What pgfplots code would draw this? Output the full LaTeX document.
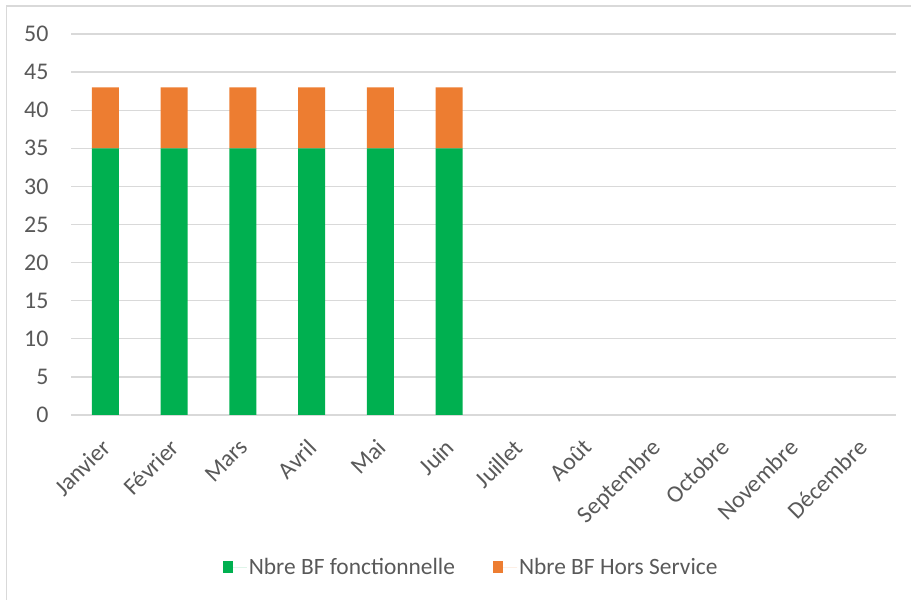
\documentclass[border=0pt]{standalone}
\usepackage{pgfplots}
\pgfplotsset{compat=1.18}
\usepackage{fontspec}
\setmainfont{Carlito}
\definecolor{cgreen}{HTML}{00B050}
\definecolor{corange}{HTML}{ED7D31}
\definecolor{cgrid}{HTML}{D9D9D9}
\definecolor{ctext}{HTML}{595959}
\begin{document}
\begin{tikzpicture}[x=1bp,y=1bp]
\useasboundingbox (0,0) rectangle (911,600);
\draw[color=cgrid, line width=1.5bp] (6.5,-10) -- (6.5,594) -- (930,594);
\begin{axis}[
  at={(71bp,185bp)}, anchor=south west,
  scale only axis, width=825bp, height=381bp,
  xmin=-0.5, xmax=11.5, ymin=0, ymax=50,
  ytick={0,5,...,50},
  xtick={0,...,11},
  xticklabels={Janvier,Février,Mars,Avril,Mai,Juin,Juillet,Août,Septembre,Octobre,Novembre,Décembre},
  ybar stacked, bar width=27bp,
  axis line style={draw=none},
  major tick length=0pt,
  ymajorgrids, grid style={cgrid, line width=1.3bp},
  tick label style={font=\fontsize{24}{28}\selectfont, text=ctext},
  /pgf/number format/assume math mode=true,
  yticklabel style={xshift=-19bp},
  xticklabel style={rotate=45, anchor=north east, xshift=-16bp, yshift=-9bp},
  legend style={at={(0.485,-0.399)}, anchor=center, draw=none, fill=none,
    font=\fontsize{23.5}{28}\selectfont, text=ctext, legend columns=2,
    /tikz/every even column/.append style={column sep=36bp}},
  legend image code/.code={\fill[#1] (0bp,-6bp) rectangle (10bp,6bp); \path (0bp,0bp) -- (24bp,0bp);},
]
\addplot[fill=cgreen, draw=none] coordinates {(0,35)(1,35)(2,35)(3,35)(4,35)(5,35)};
\addplot[fill=corange, draw=none] coordinates {(0,8)(1,8)(2,8)(3,8)(4,8)(5,8)};
\legend{Nbre BF fonctionnelle, Nbre BF Hors Service}
\end{axis}
\end{tikzpicture}
\end{document}
